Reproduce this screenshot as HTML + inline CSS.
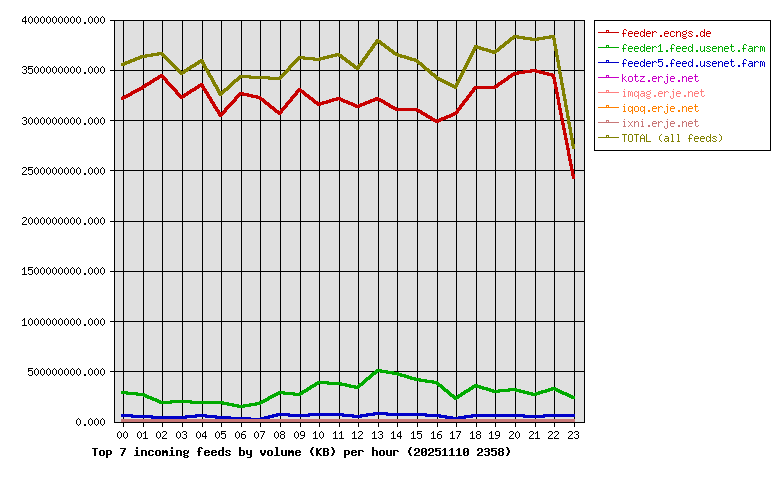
<!DOCTYPE html>
<html><head><meta charset="utf-8"><title>Top 7 incoming feeds by volume (KB) per hour</title><style>
html,body{margin:0;padding:0;background:#fff;width:780px;height:480px;overflow:hidden;font-family:"Liberation Mono",monospace}
svg{display:block}
</style></head><body>
<svg width="780" height="480" viewBox="0 0 780 480" shape-rendering="crispEdges">
<defs>
<path id="s40" d="M3 3h1v1h-1zM2 4h1v1h-1zM1 5h1v1h-1zM1 6h1v1h-1zM1 7h1v1h-1zM1 8h1v1h-1zM2 9h1v1h-1zM3 10h1v1h-1z"/>
<path id="s41" d="M1 3h1v1h-1zM2 4h1v1h-1zM3 5h1v1h-1zM3 6h1v1h-1zM3 7h1v1h-1zM3 8h1v1h-1zM2 9h1v1h-1zM1 10h1v1h-1z"/>
<path id="s46" d="M2 9h2v1h-2zM2 10h2v1h-2z"/>
<path id="s48" d="M2 3h1v1h-1zM1 4h1v1h-1zM3 4h1v1h-1zM0 5h1v1h-1zM4 5h1v1h-1zM0 6h1v1h-1zM4 6h1v1h-1zM0 7h1v1h-1zM4 7h1v1h-1zM0 8h1v1h-1zM4 8h1v1h-1zM1 9h1v1h-1zM3 9h1v1h-1zM2 10h1v1h-1z"/>
<path id="s49" d="M2 3h1v1h-1zM1 4h2v1h-2zM0 5h1v1h-1zM2 5h1v1h-1zM2 6h1v1h-1zM2 7h1v1h-1zM2 8h1v1h-1zM2 9h1v1h-1zM0 10h5v1h-5z"/>
<path id="s50" d="M1 3h3v1h-3zM0 4h1v1h-1zM4 4h1v1h-1zM4 5h1v1h-1zM3 6h1v1h-1zM2 7h1v1h-1zM1 8h1v1h-1zM0 9h1v1h-1zM0 10h5v1h-5z"/>
<path id="s51" d="M1 3h3v1h-3zM0 4h1v1h-1zM4 4h1v1h-1zM4 5h1v1h-1zM2 6h2v1h-2zM4 7h1v1h-1zM4 8h1v1h-1zM0 9h1v1h-1zM4 9h1v1h-1zM1 10h3v1h-3z"/>
<path id="s52" d="M3 3h1v1h-1zM2 4h2v1h-2zM1 5h1v1h-1zM3 5h1v1h-1zM0 6h1v1h-1zM3 6h1v1h-1zM0 7h1v1h-1zM3 7h1v1h-1zM0 8h5v1h-5zM3 9h1v1h-1zM3 10h1v1h-1z"/>
<path id="s53" d="M0 3h5v1h-5zM0 4h1v1h-1zM0 5h4v1h-4zM0 6h1v1h-1zM4 6h1v1h-1zM4 7h1v1h-1zM4 8h1v1h-1zM0 9h1v1h-1zM4 9h1v1h-1zM1 10h3v1h-3z"/>
<path id="s54" d="M2 3h3v1h-3zM1 4h1v1h-1zM0 5h1v1h-1zM0 6h4v1h-4zM0 7h1v1h-1zM4 7h1v1h-1zM0 8h1v1h-1zM4 8h1v1h-1zM0 9h1v1h-1zM4 9h1v1h-1zM1 10h3v1h-3z"/>
<path id="s55" d="M0 3h5v1h-5zM4 4h1v1h-1zM3 5h1v1h-1zM3 6h1v1h-1zM2 7h1v1h-1zM2 8h1v1h-1zM1 9h1v1h-1zM1 10h1v1h-1z"/>
<path id="s56" d="M1 3h3v1h-3zM0 4h1v1h-1zM4 4h1v1h-1zM0 5h1v1h-1zM4 5h1v1h-1zM1 6h3v1h-3zM0 7h1v1h-1zM4 7h1v1h-1zM0 8h1v1h-1zM4 8h1v1h-1zM0 9h1v1h-1zM4 9h1v1h-1zM1 10h3v1h-3z"/>
<path id="s57" d="M1 3h3v1h-3zM0 4h1v1h-1zM4 4h1v1h-1zM0 5h1v1h-1zM4 5h1v1h-1zM0 6h1v1h-1zM4 6h1v1h-1zM1 7h4v1h-4zM4 8h1v1h-1zM3 9h1v1h-1zM0 10h3v1h-3z"/>
<path id="s65" d="M2 3h1v1h-1zM1 4h1v1h-1zM3 4h1v1h-1zM0 5h1v1h-1zM4 5h1v1h-1zM0 6h1v1h-1zM4 6h1v1h-1zM0 7h5v1h-5zM0 8h1v1h-1zM4 8h1v1h-1zM0 9h1v1h-1zM4 9h1v1h-1zM0 10h1v1h-1zM4 10h1v1h-1z"/>
<path id="s76" d="M0 3h1v1h-1zM0 4h1v1h-1zM0 5h1v1h-1zM0 6h1v1h-1zM0 7h1v1h-1zM0 8h1v1h-1zM0 9h1v1h-1zM0 10h5v1h-5z"/>
<path id="s79" d="M1 3h3v1h-3zM0 4h1v1h-1zM4 4h1v1h-1zM0 5h1v1h-1zM4 5h1v1h-1zM0 6h1v1h-1zM4 6h1v1h-1zM0 7h1v1h-1zM4 7h1v1h-1zM0 8h1v1h-1zM4 8h1v1h-1zM0 9h1v1h-1zM4 9h1v1h-1zM1 10h3v1h-3z"/>
<path id="s84" d="M0 3h5v1h-5zM2 4h1v1h-1zM2 5h1v1h-1zM2 6h1v1h-1zM2 7h1v1h-1zM2 8h1v1h-1zM2 9h1v1h-1zM2 10h1v1h-1z"/>
<path id="s97" d="M1 5h3v1h-3zM4 6h1v1h-1zM1 7h4v1h-4zM0 8h1v1h-1zM4 8h1v1h-1zM0 9h1v1h-1zM3 9h2v1h-2zM1 10h2v1h-2zM4 10h1v1h-1z"/>
<path id="s99" d="M1 5h3v1h-3zM0 6h1v1h-1zM4 6h1v1h-1zM0 7h1v1h-1zM0 8h1v1h-1zM0 9h1v1h-1zM4 9h1v1h-1zM1 10h3v1h-3z"/>
<path id="s100" d="M4 3h1v1h-1zM4 4h1v1h-1zM1 5h2v1h-2zM4 5h1v1h-1zM0 6h1v1h-1zM3 6h2v1h-2zM0 7h1v1h-1zM4 7h1v1h-1zM0 8h1v1h-1zM4 8h1v1h-1zM0 9h1v1h-1zM3 9h2v1h-2zM1 10h2v1h-2zM4 10h1v1h-1z"/>
<path id="s101" d="M1 5h3v1h-3zM0 6h1v1h-1zM4 6h1v1h-1zM0 7h5v1h-5zM0 8h1v1h-1zM0 9h1v1h-1zM1 10h3v1h-3z"/>
<path id="s102" d="M2 3h2v1h-2zM1 4h1v1h-1zM4 4h1v1h-1zM1 5h1v1h-1zM1 6h1v1h-1zM0 7h4v1h-4zM1 8h1v1h-1zM1 9h1v1h-1zM1 10h1v1h-1z"/>
<path id="s103" d="M4 4h1v1h-1zM1 5h3v1h-3zM0 6h1v1h-1zM4 6h1v1h-1zM0 7h1v1h-1zM4 7h1v1h-1zM1 8h3v1h-3zM0 9h1v1h-1zM1 10h3v1h-3zM0 11h1v1h-1zM4 11h1v1h-1zM1 12h3v1h-3z"/>
<path id="s105" d="M2 3h1v1h-1zM1 5h2v1h-2zM2 6h1v1h-1zM2 7h1v1h-1zM2 8h1v1h-1zM2 9h1v1h-1zM1 10h3v1h-3z"/>
<path id="s106" d="M3 3h1v1h-1zM2 5h2v1h-2zM3 6h1v1h-1zM3 7h1v1h-1zM3 8h1v1h-1zM3 9h1v1h-1zM0 10h1v1h-1zM3 10h1v1h-1zM0 11h1v1h-1zM3 11h1v1h-1zM1 12h2v1h-2z"/>
<path id="s107" d="M0 3h1v1h-1zM0 4h1v1h-1zM0 5h1v1h-1zM3 5h1v1h-1zM0 6h1v1h-1zM2 6h1v1h-1zM0 7h2v1h-2zM0 8h1v1h-1zM2 8h1v1h-1zM0 9h1v1h-1zM3 9h1v1h-1zM0 10h1v1h-1zM4 10h1v1h-1z"/>
<path id="s108" d="M1 3h2v1h-2zM2 4h1v1h-1zM2 5h1v1h-1zM2 6h1v1h-1zM2 7h1v1h-1zM2 8h1v1h-1zM2 9h1v1h-1zM1 10h3v1h-3z"/>
<path id="s109" d="M0 5h2v1h-2zM3 5h1v1h-1zM0 6h1v1h-1zM2 6h1v1h-1zM4 6h1v1h-1zM0 7h1v1h-1zM2 7h1v1h-1zM4 7h1v1h-1zM0 8h1v1h-1zM2 8h1v1h-1zM4 8h1v1h-1zM0 9h1v1h-1zM2 9h1v1h-1zM4 9h1v1h-1zM0 10h1v1h-1zM4 10h1v1h-1z"/>
<path id="s110" d="M0 5h1v1h-1zM2 5h2v1h-2zM0 6h2v1h-2zM4 6h1v1h-1zM0 7h1v1h-1zM4 7h1v1h-1zM0 8h1v1h-1zM4 8h1v1h-1zM0 9h1v1h-1zM4 9h1v1h-1zM0 10h1v1h-1zM4 10h1v1h-1z"/>
<path id="s111" d="M1 5h3v1h-3zM0 6h1v1h-1zM4 6h1v1h-1zM0 7h1v1h-1zM4 7h1v1h-1zM0 8h1v1h-1zM4 8h1v1h-1zM0 9h1v1h-1zM4 9h1v1h-1zM1 10h3v1h-3z"/>
<path id="s113" d="M1 5h2v1h-2zM4 5h1v1h-1zM0 6h1v1h-1zM3 6h2v1h-2zM0 7h1v1h-1zM4 7h1v1h-1zM0 8h1v1h-1zM4 8h1v1h-1zM0 9h1v1h-1zM3 9h2v1h-2zM1 10h2v1h-2zM4 10h1v1h-1zM4 11h1v1h-1zM4 12h1v1h-1z"/>
<path id="s114" d="M0 5h1v1h-1zM2 5h2v1h-2zM0 6h2v1h-2zM4 6h1v1h-1zM0 7h1v1h-1zM0 8h1v1h-1zM0 9h1v1h-1zM0 10h1v1h-1z"/>
<path id="s115" d="M1 5h3v1h-3zM0 6h1v1h-1zM4 6h1v1h-1zM1 7h2v1h-2zM3 8h1v1h-1zM0 9h1v1h-1zM4 9h1v1h-1zM1 10h3v1h-3z"/>
<path id="s116" d="M1 3h1v1h-1zM1 4h1v1h-1zM0 5h4v1h-4zM1 6h1v1h-1zM1 7h1v1h-1zM1 8h1v1h-1zM1 9h1v1h-1zM4 9h1v1h-1zM2 10h2v1h-2z"/>
<path id="s117" d="M0 5h1v1h-1zM4 5h1v1h-1zM0 6h1v1h-1zM4 6h1v1h-1zM0 7h1v1h-1zM4 7h1v1h-1zM0 8h1v1h-1zM4 8h1v1h-1zM0 9h1v1h-1zM3 9h2v1h-2zM1 10h2v1h-2zM4 10h1v1h-1z"/>
<path id="s120" d="M0 5h1v1h-1zM4 5h1v1h-1zM1 6h1v1h-1zM3 6h1v1h-1zM2 7h1v1h-1zM2 8h1v1h-1zM1 9h1v1h-1zM3 9h1v1h-1zM0 10h1v1h-1zM4 10h1v1h-1z"/>
<path id="s122" d="M0 5h5v1h-5zM3 6h1v1h-1zM2 7h1v1h-1zM1 8h1v1h-1zM0 9h1v1h-1zM0 10h5v1h-5z"/>
<path id="b40" d="M3 2h2v1h-2zM2 3h2v1h-2zM2 4h2v1h-2zM1 5h2v1h-2zM1 6h2v1h-2zM1 7h2v1h-2zM2 8h2v1h-2zM2 9h2v1h-2zM3 10h2v1h-2z"/>
<path id="b41" d="M1 2h2v1h-2zM2 3h2v1h-2zM2 4h2v1h-2zM3 5h2v1h-2zM3 6h2v1h-2zM3 7h2v1h-2zM2 8h2v1h-2zM2 9h2v1h-2zM1 10h2v1h-2z"/>
<path id="b48" d="M1 3h4v1h-4zM0 4h2v1h-2zM4 4h2v1h-2zM0 5h2v1h-2zM4 5h2v1h-2zM0 6h2v1h-2zM3 6h3v1h-3zM0 7h3v1h-3zM4 7h2v1h-2zM0 8h2v1h-2zM4 8h2v1h-2zM0 9h2v1h-2zM4 9h2v1h-2zM1 10h4v1h-4z"/>
<path id="b49" d="M2 3h2v1h-2zM1 4h3v1h-3zM0 5h1v1h-1zM2 5h2v1h-2zM2 6h2v1h-2zM2 7h2v1h-2zM2 8h2v1h-2zM2 9h2v1h-2zM0 10h6v1h-6z"/>
<path id="b50" d="M1 3h4v1h-4zM0 4h2v1h-2zM4 4h2v1h-2zM0 5h2v1h-2zM4 5h2v1h-2zM4 6h2v1h-2zM2 7h3v1h-3zM1 8h2v1h-2zM0 9h2v1h-2zM0 10h6v1h-6z"/>
<path id="b51" d="M1 3h4v1h-4zM0 4h2v1h-2zM4 4h2v1h-2zM4 5h2v1h-2zM1 6h4v1h-4zM4 7h2v1h-2zM4 8h2v1h-2zM0 9h2v1h-2zM4 9h2v1h-2zM1 10h4v1h-4z"/>
<path id="b53" d="M0 3h6v1h-6zM0 4h2v1h-2zM0 5h5v1h-5zM0 6h2v1h-2zM4 6h2v1h-2zM4 7h2v1h-2zM4 8h2v1h-2zM0 9h2v1h-2zM4 9h2v1h-2zM1 10h4v1h-4z"/>
<path id="b55" d="M0 3h6v1h-6zM4 4h2v1h-2zM3 5h2v1h-2zM3 6h2v1h-2zM2 7h2v1h-2zM2 8h2v1h-2zM1 9h2v1h-2zM1 10h2v1h-2z"/>
<path id="b56" d="M1 3h4v1h-4zM0 4h2v1h-2zM4 4h2v1h-2zM0 5h2v1h-2zM4 5h2v1h-2zM1 6h4v1h-4zM0 7h2v1h-2zM4 7h2v1h-2zM0 8h2v1h-2zM4 8h2v1h-2zM0 9h2v1h-2zM4 9h2v1h-2zM1 10h4v1h-4z"/>
<path id="b66" d="M0 3h5v1h-5zM0 4h2v1h-2zM4 4h2v1h-2zM0 5h2v1h-2zM4 5h2v1h-2zM0 6h5v1h-5zM0 7h2v1h-2zM4 7h2v1h-2zM0 8h2v1h-2zM4 8h2v1h-2zM0 9h2v1h-2zM4 9h2v1h-2zM0 10h5v1h-5z"/>
<path id="b75" d="M0 3h2v1h-2zM4 3h2v1h-2zM0 4h2v1h-2zM3 4h2v1h-2zM0 5h4v1h-4zM0 6h3v1h-3zM0 7h3v1h-3zM0 8h4v1h-4zM0 9h2v1h-2zM3 9h2v1h-2zM0 10h2v1h-2zM4 10h2v1h-2z"/>
<path id="b84" d="M0 3h6v1h-6zM2 4h2v1h-2zM2 5h2v1h-2zM2 6h2v1h-2zM2 7h2v1h-2zM2 8h2v1h-2zM2 9h2v1h-2zM2 10h2v1h-2z"/>
<path id="b98" d="M0 2h2v1h-2zM0 3h2v1h-2zM0 4h2v1h-2zM0 5h5v1h-5zM0 6h2v1h-2zM4 6h2v1h-2zM0 7h2v1h-2zM4 7h2v1h-2zM0 8h2v1h-2zM4 8h2v1h-2zM0 9h2v1h-2zM4 9h2v1h-2zM0 10h5v1h-5z"/>
<path id="b99" d="M1 5h4v1h-4zM0 6h2v1h-2zM4 6h2v1h-2zM0 7h2v1h-2zM0 8h2v1h-2zM0 9h2v1h-2zM4 9h2v1h-2zM1 10h4v1h-4z"/>
<path id="b100" d="M4 2h2v1h-2zM4 3h2v1h-2zM4 4h2v1h-2zM1 5h5v1h-5zM0 6h2v1h-2zM4 6h2v1h-2zM0 7h2v1h-2zM4 7h2v1h-2zM0 8h2v1h-2zM4 8h2v1h-2zM0 9h2v1h-2zM4 9h2v1h-2zM1 10h5v1h-5z"/>
<path id="b101" d="M1 5h4v1h-4zM0 6h2v1h-2zM4 6h2v1h-2zM0 7h6v1h-6zM0 8h2v1h-2zM0 9h2v1h-2zM4 9h2v1h-2zM1 10h4v1h-4z"/>
<path id="b102" d="M2 2h3v1h-3zM1 3h2v1h-2zM4 3h2v1h-2zM1 4h2v1h-2zM1 5h2v1h-2zM0 6h4v1h-4zM1 7h2v1h-2zM1 8h2v1h-2zM1 9h2v1h-2zM1 10h2v1h-2z"/>
<path id="b103" d="M1 5h3v1h-3zM5 5h1v1h-1zM0 6h2v1h-2zM4 6h2v1h-2zM0 7h2v1h-2zM4 7h2v1h-2zM1 8h4v1h-4zM0 9h2v1h-2zM1 10h4v1h-4zM0 11h2v1h-2zM4 11h2v1h-2zM1 12h4v1h-4z"/>
<path id="b104" d="M0 2h2v1h-2zM0 3h2v1h-2zM0 4h2v1h-2zM0 5h5v1h-5zM0 6h2v1h-2zM4 6h2v1h-2zM0 7h2v1h-2zM4 7h2v1h-2zM0 8h2v1h-2zM4 8h2v1h-2zM0 9h2v1h-2zM4 9h2v1h-2zM0 10h2v1h-2zM4 10h2v1h-2z"/>
<path id="b105" d="M2 2h2v1h-2zM2 3h2v1h-2zM1 5h3v1h-3zM2 6h2v1h-2zM2 7h2v1h-2zM2 8h2v1h-2zM2 9h2v1h-2zM0 10h6v1h-6z"/>
<path id="b108" d="M1 2h3v1h-3zM2 3h2v1h-2zM2 4h2v1h-2zM2 5h2v1h-2zM2 6h2v1h-2zM2 7h2v1h-2zM2 8h2v1h-2zM2 9h2v1h-2zM0 10h6v1h-6z"/>
<path id="b109" d="M0 5h2v1h-2zM3 5h2v1h-2zM0 6h6v1h-6zM0 7h6v1h-6zM0 8h2v1h-2zM4 8h2v1h-2zM0 9h2v1h-2zM4 9h2v1h-2zM0 10h2v1h-2zM4 10h2v1h-2z"/>
<path id="b110" d="M0 5h5v1h-5zM0 6h2v1h-2zM4 6h2v1h-2zM0 7h2v1h-2zM4 7h2v1h-2zM0 8h2v1h-2zM4 8h2v1h-2zM0 9h2v1h-2zM4 9h2v1h-2zM0 10h2v1h-2zM4 10h2v1h-2z"/>
<path id="b111" d="M1 5h4v1h-4zM0 6h2v1h-2zM4 6h2v1h-2zM0 7h2v1h-2zM4 7h2v1h-2zM0 8h2v1h-2zM4 8h2v1h-2zM0 9h2v1h-2zM4 9h2v1h-2zM1 10h4v1h-4z"/>
<path id="b112" d="M0 5h5v1h-5zM0 6h2v1h-2zM4 6h2v1h-2zM0 7h2v1h-2zM4 7h2v1h-2zM0 8h2v1h-2zM4 8h2v1h-2zM0 9h5v1h-5zM0 10h2v1h-2zM0 11h2v1h-2zM0 12h2v1h-2z"/>
<path id="b114" d="M0 5h5v1h-5zM0 6h2v1h-2zM4 6h2v1h-2zM0 7h2v1h-2zM0 8h2v1h-2zM0 9h2v1h-2zM0 10h2v1h-2z"/>
<path id="b115" d="M1 5h4v1h-4zM0 6h2v1h-2zM4 6h2v1h-2zM1 7h2v1h-2zM3 8h2v1h-2zM0 9h2v1h-2zM4 9h2v1h-2zM1 10h4v1h-4z"/>
<path id="b117" d="M0 5h2v1h-2zM4 5h2v1h-2zM0 6h2v1h-2zM4 6h2v1h-2zM0 7h2v1h-2zM4 7h2v1h-2zM0 8h2v1h-2zM4 8h2v1h-2zM0 9h2v1h-2zM4 9h2v1h-2zM1 10h5v1h-5z"/>
<path id="b118" d="M0 5h2v1h-2zM4 5h2v1h-2zM0 6h2v1h-2zM4 6h2v1h-2zM0 7h2v1h-2zM4 7h2v1h-2zM1 8h4v1h-4zM1 9h4v1h-4zM2 10h2v1h-2z"/>
<path id="b121" d="M0 5h2v1h-2zM4 5h2v1h-2zM0 6h2v1h-2zM4 6h2v1h-2zM0 7h2v1h-2zM4 7h2v1h-2zM0 8h2v1h-2zM4 8h2v1h-2zM1 9h5v1h-5zM4 10h2v1h-2zM4 11h2v1h-2zM1 12h4v1h-4z"/>
</defs>
<rect x="114" y="20" width="471" height="403" fill="#e0e0e0"/>
<path d="M123 20h1v407h-1zM143 20h1v407h-1zM162 20h1v407h-1zM182 20h1v407h-1zM202 20h1v407h-1zM221 20h1v407h-1zM241 20h1v407h-1zM260 20h1v407h-1zM280 20h1v407h-1zM300 20h1v407h-1zM319 20h1v407h-1zM339 20h1v407h-1zM358 20h1v407h-1zM378 20h1v407h-1zM397 20h1v407h-1zM417 20h1v407h-1zM437 20h1v407h-1zM456 20h1v407h-1zM476 20h1v407h-1zM495 20h1v407h-1zM515 20h1v407h-1zM535 20h1v407h-1zM554 20h1v407h-1zM574 20h1v407h-1zM110 20h475v1h-475zM110 70h475v1h-475zM110 120h475v1h-475zM110 170h475v1h-475zM110 221h475v1h-475zM110 271h475v1h-475zM110 321h475v1h-475zM110 371h475v1h-475zM114 20h1v403h-1zM584 20h1v403h-1zM114 20h471v1h-471zM114 422h471v1h-471z" fill="#000"/>
<path d="M530 69h7v1h-7zM523 70h18v1h-18zM517 71h28v1h-28zM513 72h19v1h-19zM535 72h14v1h-14zM511 73h14v1h-14zM539 73h14v1h-14zM160 74h3v1h-3zM510 74h9v1h-9zM543 74h12v1h-12zM158 75h6v1h-6zM508 75h7v1h-7zM547 75h8v1h-8zM157 76h8v1h-8zM507 76h6v1h-6zM551 76h4v1h-4zM155 77h11v1h-11zM506 77h6v1h-6zM552 77h4v1h-4zM153 78h7v1h-7zM162 78h5v1h-5zM504 78h6v1h-6zM552 78h4v1h-4zM152 79h7v1h-7zM163 79h5v1h-5zM503 79h6v1h-6zM553 79h3v1h-3zM150 80h7v1h-7zM164 80h4v1h-4zM501 80h7v1h-7zM553 80h3v1h-3zM149 81h6v1h-6zM165 81h4v1h-4zM500 81h6v1h-6zM553 81h3v1h-3zM147 82h7v1h-7zM165 82h5v1h-5zM498 82h7v1h-7zM553 82h4v1h-4zM145 83h7v1h-7zM166 83h5v1h-5zM200 83h3v1h-3zM497 83h6v1h-6zM553 83h4v1h-4zM144 84h7v1h-7zM167 84h5v1h-5zM198 84h6v1h-6zM496 84h6v1h-6zM554 84h3v1h-3zM142 85h7v1h-7zM168 85h5v1h-5zM197 85h7v1h-7zM494 85h6v1h-6zM554 85h3v1h-3zM141 86h6v1h-6zM169 86h5v1h-5zM195 86h10v1h-10zM474 86h25v1h-25zM554 86h3v1h-3zM139 87h7v1h-7zM170 87h5v1h-5zM194 87h6v1h-6zM201 87h4v1h-4zM473 87h25v1h-25zM554 87h4v1h-4zM137 88h7v1h-7zM171 88h5v1h-5zM192 88h7v1h-7zM202 88h4v1h-4zM298 88h3v1h-3zM472 88h24v1h-24zM554 88h4v1h-4zM135 89h8v1h-8zM172 89h5v1h-5zM190 89h7v1h-7zM202 89h5v1h-5zM297 89h5v1h-5zM472 89h4v1h-4zM555 89h3v1h-3zM133 90h8v1h-8zM173 90h5v1h-5zM189 90h7v1h-7zM203 90h4v1h-4zM296 90h8v1h-8zM471 90h4v1h-4zM555 90h3v1h-3zM131 91h8v1h-8zM174 91h4v1h-4zM187 91h7v1h-7zM204 91h4v1h-4zM295 91h10v1h-10zM470 91h5v1h-5zM555 91h3v1h-3zM130 92h7v1h-7zM175 92h4v1h-4zM186 92h6v1h-6zM204 92h5v1h-5zM239 92h5v1h-5zM295 92h4v1h-4zM300 92h6v1h-6zM469 92h5v1h-5zM555 92h4v1h-4zM128 93h7v1h-7zM175 93h5v1h-5zM184 93h7v1h-7zM205 93h4v1h-4zM238 93h11v1h-11zM294 93h4v1h-4zM302 93h5v1h-5zM469 93h4v1h-4zM555 93h4v1h-4zM126 94h7v1h-7zM176 94h5v1h-5zM183 94h6v1h-6zM206 94h4v1h-4zM237 94h16v1h-16zM293 94h5v1h-5zM303 94h6v1h-6zM468 94h4v1h-4zM556 94h3v1h-3zM124 95h8v1h-8zM177 95h11v1h-11zM206 95h4v1h-4zM236 95h5v1h-5zM242 95h16v1h-16zM292 95h5v1h-5zM304 95h6v1h-6zM467 95h5v1h-5zM556 95h3v1h-3zM122 96h8v1h-8zM178 96h8v1h-8zM207 96h4v1h-4zM235 96h5v1h-5zM247 96h14v1h-14zM291 96h5v1h-5zM305 96h6v1h-6zM466 96h5v1h-5zM556 96h3v1h-3zM121 97h7v1h-7zM179 97h6v1h-6zM207 97h5v1h-5zM234 97h5v1h-5zM251 97h11v1h-11zM290 97h5v1h-5zM307 97h6v1h-6zM336 97h5v1h-5zM375 97h4v1h-4zM466 97h4v1h-4zM556 97h4v1h-4zM121 98h5v1h-5zM180 98h3v1h-3zM208 98h4v1h-4zM234 98h4v1h-4zM256 98h8v1h-8zM290 98h4v1h-4zM308 98h6v1h-6zM332 98h11v1h-11zM373 98h8v1h-8zM465 98h4v1h-4zM556 98h4v1h-4zM121 99h3v1h-3zM209 99h4v1h-4zM233 99h4v1h-4zM259 99h6v1h-6zM289 99h4v1h-4zM309 99h6v1h-6zM329 99h16v1h-16zM370 99h13v1h-13zM464 99h5v1h-5zM557 99h3v1h-3zM209 100h4v1h-4zM232 100h5v1h-5zM260 100h6v1h-6zM288 100h5v1h-5zM311 100h5v1h-5zM326 100h12v1h-12zM339 100h9v1h-9zM368 100h17v1h-17zM463 100h5v1h-5zM557 100h3v1h-3zM210 101h4v1h-4zM231 101h5v1h-5zM262 101h5v1h-5zM287 101h5v1h-5zM312 101h6v1h-6zM322 101h12v1h-12zM341 101h9v1h-9zM365 101h10v1h-10zM379 101h7v1h-7zM462 101h5v1h-5zM557 101h3v1h-3zM210 102h5v1h-5zM230 102h5v1h-5zM263 102h6v1h-6zM286 102h5v1h-5zM313 102h18v1h-18zM343 102h10v1h-10zM363 102h9v1h-9zM381 102h7v1h-7zM462 102h4v1h-4zM557 102h3v1h-3zM211 103h4v1h-4zM229 103h5v1h-5zM264 103h6v1h-6zM285 103h5v1h-5zM314 103h14v1h-14zM346 103h9v1h-9zM360 103h10v1h-10zM383 103h7v1h-7zM461 103h4v1h-4zM557 103h4v1h-4zM212 104h4v1h-4zM228 104h5v1h-5zM265 104h6v1h-6zM285 104h4v1h-4zM316 104h8v1h-8zM348 104h9v1h-9zM358 104h9v1h-9zM384 104h7v1h-7zM460 104h5v1h-5zM557 104h4v1h-4zM212 105h4v1h-4zM227 105h5v1h-5zM267 105h5v1h-5zM284 105h4v1h-4zM317 105h4v1h-4zM351 105h14v1h-14zM386 105h7v1h-7zM459 105h5v1h-5zM558 105h3v1h-3zM213 106h4v1h-4zM226 106h5v1h-5zM268 106h6v1h-6zM283 106h5v1h-5zM353 106h9v1h-9zM388 106h7v1h-7zM459 106h4v1h-4zM558 106h3v1h-3zM213 107h5v1h-5zM225 107h5v1h-5zM269 107h6v1h-6zM282 107h5v1h-5zM355 107h5v1h-5zM389 107h8v1h-8zM458 107h4v1h-4zM558 107h3v1h-3zM214 108h4v1h-4zM224 108h5v1h-5zM270 108h6v1h-6zM281 108h5v1h-5zM391 108h27v1h-27zM457 108h5v1h-5zM558 108h4v1h-4zM215 109h4v1h-4zM224 109h4v1h-4zM272 109h5v1h-5zM280 109h5v1h-5zM393 109h27v1h-27zM456 109h5v1h-5zM558 109h4v1h-4zM215 110h5v1h-5zM223 110h4v1h-4zM273 110h6v1h-6zM280 110h4v1h-4zM395 110h27v1h-27zM456 110h4v1h-4zM559 110h3v1h-3zM216 111h4v1h-4zM222 111h5v1h-5zM274 111h9v1h-9zM416 111h7v1h-7zM455 111h4v1h-4zM559 111h3v1h-3zM217 112h9v1h-9zM275 112h8v1h-8zM418 112h7v1h-7zM453 112h6v1h-6zM559 112h3v1h-3zM217 113h8v1h-8zM277 113h5v1h-5zM420 113h7v1h-7zM451 113h7v1h-7zM559 113h4v1h-4zM218 114h6v1h-6zM278 114h3v1h-3zM421 114h7v1h-7zM449 114h8v1h-8zM559 114h4v1h-4zM218 115h5v1h-5zM423 115h7v1h-7zM446 115h9v1h-9zM560 115h3v1h-3zM219 116h3v1h-3zM425 116h7v1h-7zM444 116h9v1h-9zM560 116h3v1h-3zM426 117h7v1h-7zM441 117h10v1h-10zM560 117h3v1h-3zM428 118h7v1h-7zM439 118h9v1h-9zM560 118h4v1h-4zM430 119h16v1h-16zM560 119h4v1h-4zM431 120h12v1h-12zM561 120h3v1h-3zM433 121h8v1h-8zM561 121h3v1h-3zM435 122h4v1h-4zM561 122h3v1h-3zM561 123h4v1h-4zM561 124h4v1h-4zM562 125h3v1h-3zM562 126h3v1h-3zM562 127h3v1h-3zM562 128h4v1h-4zM562 129h4v1h-4zM563 130h3v1h-3zM563 131h3v1h-3zM563 132h3v1h-3zM563 133h4v1h-4zM563 134h4v1h-4zM564 135h3v1h-3zM564 136h3v1h-3zM564 137h3v1h-3zM564 138h4v1h-4zM564 139h4v1h-4zM565 140h3v1h-3zM565 141h3v1h-3zM565 142h3v1h-3zM565 143h4v1h-4zM565 144h4v1h-4zM566 145h3v1h-3zM566 146h3v1h-3zM566 147h3v1h-3zM566 148h4v1h-4zM566 149h4v1h-4zM567 150h3v1h-3zM567 151h3v1h-3zM567 152h3v1h-3zM567 153h3v1h-3zM567 154h4v1h-4zM567 155h4v1h-4zM568 156h3v1h-3zM568 157h3v1h-3zM568 158h3v1h-3zM568 159h4v1h-4zM568 160h4v1h-4zM569 161h3v1h-3zM569 162h3v1h-3zM569 163h3v1h-3zM569 164h4v1h-4zM569 165h4v1h-4zM570 166h3v1h-3zM570 167h3v1h-3zM570 168h3v1h-3zM570 169h4v1h-4zM570 170h4v1h-4zM571 171h3v1h-3zM571 172h3v1h-3zM571 173h3v1h-3zM571 174h4v1h-4zM571 175h4v1h-4zM572 176h3v1h-3zM572 177h3v1h-3zM572 178h3v1h-3z" fill="#c80000"/>
<path d="M376 369h6v1h-6zM375 370h13v1h-13zM374 371h20v1h-20zM372 372h6v1h-6zM380 372h19v1h-19zM371 373h6v1h-6zM386 373h16v1h-16zM370 374h6v1h-6zM392 374h14v1h-14zM369 375h5v1h-5zM397 375h12v1h-12zM368 376h5v1h-5zM400 376h12v1h-12zM366 377h6v1h-6zM404 377h12v1h-12zM365 378h6v1h-6zM407 378h14v1h-14zM364 379h6v1h-6zM410 379h17v1h-17zM363 380h5v1h-5zM414 380h20v1h-20zM317 381h12v1h-12zM362 381h5v1h-5zM419 381h19v1h-19zM315 382h27v1h-27zM361 382h5v1h-5zM425 382h14v1h-14zM314 383h33v1h-33zM359 383h6v1h-6zM432 383h8v1h-8zM312 384h7v1h-7zM327 384h24v1h-24zM358 384h6v1h-6zM436 384h6v1h-6zM474 384h4v1h-4zM310 385h7v1h-7zM340 385h16v1h-16zM357 385h6v1h-6zM437 385h6v1h-6zM472 385h9v1h-9zM309 386h7v1h-7zM345 386h16v1h-16zM438 386h6v1h-6zM471 386h13v1h-13zM307 387h7v1h-7zM349 387h11v1h-11zM440 387h5v1h-5zM469 387h19v1h-19zM551 387h5v1h-5zM306 388h6v1h-6zM354 388h5v1h-5zM441 388h5v1h-5zM468 388h6v1h-6zM479 388h12v1h-12zM508 388h9v1h-9zM548 388h10v1h-10zM304 389h7v1h-7zM442 389h6v1h-6zM466 389h7v1h-7zM482 389h12v1h-12zM498 389h23v1h-23zM545 389h15v1h-15zM302 390h7v1h-7zM443 390h6v1h-6zM464 390h7v1h-7zM486 390h39v1h-39zM541 390h12v1h-12zM554 390h8v1h-8zM121 391h7v1h-7zM278 391h7v1h-7zM301 391h7v1h-7zM444 391h6v1h-6zM463 391h7v1h-7zM489 391h21v1h-21zM515 391h14v1h-14zM538 391h12v1h-12zM556 391h8v1h-8zM121 392h17v1h-17zM276 392h19v1h-19zM299 392h7v1h-7zM446 392h5v1h-5zM461 392h7v1h-7zM492 392h8v1h-8zM519 392h14v1h-14zM535 392h12v1h-12zM558 392h9v1h-9zM121 393h24v1h-24zM274 393h30v1h-30zM447 393h5v1h-5zM460 393h6v1h-6zM523 393h20v1h-20zM560 393h9v1h-9zM126 394h21v1h-21zM272 394h8v1h-8zM283 394h20v1h-20zM448 394h6v1h-6zM458 394h7v1h-7zM527 394h13v1h-13zM562 394h9v1h-9zM136 395h13v1h-13zM270 395h8v1h-8zM293 395h8v1h-8zM449 395h6v1h-6zM457 395h6v1h-6zM531 395h6v1h-6zM565 395h8v1h-8zM143 396h9v1h-9zM268 396h8v1h-8zM450 396h12v1h-12zM567 396h8v1h-8zM145 397h9v1h-9zM267 397h7v1h-7zM452 397h8v1h-8zM569 397h6v1h-6zM147 398h10v1h-10zM265 398h7v1h-7zM453 398h6v1h-6zM571 398h4v1h-4zM150 399h9v1h-9zM263 399h7v1h-7zM454 399h3v1h-3zM152 400h9v1h-9zM170 400h22v1h-22zM261 400h8v1h-8zM155 401h69v1h-69zM259 401h8v1h-8zM157 402h72v1h-72zM255 402h10v1h-10zM159 403h13v1h-13zM190 403h44v1h-44zM249 403h14v1h-14zM222 404h17v1h-17zM243 404h18v1h-18zM227 405h30v1h-30zM232 406h19v1h-19zM237 407h8v1h-8z" fill="#00aa00"/>
<path d="M373 412h15v1h-15zM276 413h14v1h-14zM308 413h36v1h-36zM366 413h61v1h-61zM121 414h12v1h-12zM195 414h12v1h-12zM272 414h82v1h-82zM360 414h81v1h-81zM471 414h54v1h-54zM543 414h32v1h-32zM121 415h32v1h-32zM185 415h32v1h-32zM268 415h107v1h-107zM386 415h61v1h-61zM464 415h111v1h-111zM121 416h110v1h-110zM264 416h14v1h-14zM288 416h22v1h-22zM342 416h26v1h-26zM425 416h28v1h-28zM458 416h117v1h-117zM131 417h66v1h-66zM205 417h46v1h-46zM260 417h14v1h-14zM352 417h10v1h-10zM439 417h34v1h-34zM523 417h22v1h-22zM151 418h36v1h-36zM215 418h55v1h-55zM445 418h21v1h-21zM229 419h37v1h-37zM451 419h9v1h-9zM249 420h13v1h-13z" fill="#0000c8"/>
<path d="M121 419h454v1h-454zM121 420h454v1h-454zM121 421h454v1h-454z" fill="#c87878"/>
<path d="M513 35h6v1h-6zM549 35h6v1h-6zM512 36h13v1h-13zM543 36h12v1h-12zM510 37h22v1h-22zM537 37h18v1h-18zM509 38h6v1h-6zM517 38h34v1h-34zM552 38h4v1h-4zM376 39h3v1h-3zM508 39h6v1h-6zM523 39h22v1h-22zM552 39h4v1h-4zM375 40h6v1h-6zM507 40h5v1h-5zM530 40h9v1h-9zM553 40h3v1h-3zM375 41h7v1h-7zM505 41h6v1h-6zM553 41h3v1h-3zM374 42h9v1h-9zM504 42h6v1h-6zM553 42h3v1h-3zM373 43h5v1h-5zM379 43h6v1h-6zM503 43h6v1h-6zM553 43h3v1h-3zM372 44h5v1h-5zM380 44h6v1h-6zM502 44h5v1h-5zM553 44h4v1h-4zM372 45h4v1h-4zM381 45h6v1h-6zM474 45h4v1h-4zM500 45h6v1h-6zM553 45h4v1h-4zM371 46h4v1h-4zM383 46h6v1h-6zM474 46h7v1h-7zM499 46h6v1h-6zM554 46h3v1h-3zM370 47h5v1h-5zM384 47h6v1h-6zM473 47h11v1h-11zM498 47h6v1h-6zM554 47h3v1h-3zM370 48h4v1h-4zM385 48h6v1h-6zM473 48h15v1h-15zM497 48h5v1h-5zM554 48h3v1h-3zM369 49h4v1h-4zM387 49h6v1h-6zM472 49h4v1h-4zM479 49h12v1h-12zM495 49h6v1h-6zM554 49h4v1h-4zM368 50h5v1h-5zM388 50h6v1h-6zM472 50h4v1h-4zM482 50h18v1h-18zM554 50h4v1h-4zM367 51h5v1h-5zM389 51h6v1h-6zM471 51h4v1h-4zM486 51h13v1h-13zM555 51h3v1h-3zM157 52h6v1h-6zM367 52h4v1h-4zM391 52h6v1h-6zM471 52h4v1h-4zM489 52h8v1h-8zM555 52h3v1h-3zM151 53h13v1h-13zM335 53h5v1h-5zM366 53h4v1h-4zM392 53h7v1h-7zM470 53h4v1h-4zM492 53h4v1h-4zM555 53h3v1h-3zM145 54h20v1h-20zM331 54h11v1h-11zM365 54h5v1h-5zM393 54h9v1h-9zM470 54h4v1h-4zM555 54h3v1h-3zM140 55h19v1h-19zM161 55h5v1h-5zM327 55h16v1h-16zM365 55h4v1h-4zM395 55h11v1h-11zM469 55h4v1h-4zM555 55h4v1h-4zM138 56h15v1h-15zM162 56h5v1h-5zM298 56h7v1h-7zM323 56h14v1h-14zM338 56h6v1h-6zM364 56h4v1h-4zM397 56h12v1h-12zM469 56h4v1h-4zM555 56h4v1h-4zM135 57h12v1h-12zM163 57h5v1h-5zM297 57h18v1h-18zM319 57h14v1h-14zM340 57h6v1h-6zM363 57h5v1h-5zM400 57h12v1h-12zM468 57h4v1h-4zM556 57h3v1h-3zM133 58h9v1h-9zM164 58h5v1h-5zM296 58h33v1h-33zM341 58h6v1h-6zM362 58h5v1h-5zM404 58h12v1h-12zM468 58h4v1h-4zM556 58h3v1h-3zM130 59h10v1h-10zM165 59h5v1h-5zM200 59h3v1h-3zM295 59h5v1h-5zM303 59h22v1h-22zM342 59h6v1h-6zM362 59h4v1h-4zM407 59h11v1h-11zM467 59h4v1h-4zM556 59h3v1h-3zM128 60h9v1h-9zM166 60h5v1h-5zM198 60h6v1h-6zM294 60h5v1h-5zM313 60h8v1h-8zM344 60h6v1h-6zM361 60h4v1h-4zM410 60h9v1h-9zM467 60h4v1h-4zM556 60h4v1h-4zM125 61h10v1h-10zM167 61h5v1h-5zM197 61h7v1h-7zM293 61h5v1h-5zM345 61h6v1h-6zM360 61h5v1h-5zM414 61h6v1h-6zM466 61h4v1h-4zM556 61h4v1h-4zM123 62h9v1h-9zM168 62h5v1h-5zM195 62h10v1h-10zM292 62h5v1h-5zM346 62h6v1h-6zM360 62h4v1h-4zM416 62h6v1h-6zM466 62h4v1h-4zM557 62h3v1h-3zM121 63h9v1h-9zM169 63h5v1h-5zM194 63h6v1h-6zM201 63h4v1h-4zM291 63h5v1h-5zM348 63h6v1h-6zM359 63h4v1h-4zM417 63h6v1h-6zM465 63h4v1h-4zM557 63h3v1h-3zM121 64h6v1h-6zM170 64h5v1h-5zM192 64h7v1h-7zM202 64h4v1h-4zM290 64h5v1h-5zM349 64h6v1h-6zM358 64h5v1h-5zM418 64h6v1h-6zM465 64h4v1h-4zM557 64h3v1h-3zM121 65h4v1h-4zM171 65h5v1h-5zM190 65h7v1h-7zM202 65h4v1h-4zM289 65h5v1h-5zM350 65h6v1h-6zM357 65h5v1h-5zM420 65h5v1h-5zM464 65h4v1h-4zM557 65h3v1h-3zM172 66h5v1h-5zM189 66h7v1h-7zM203 66h4v1h-4zM288 66h5v1h-5zM352 66h9v1h-9zM421 66h5v1h-5zM464 66h4v1h-4zM557 66h4v1h-4zM173 67h5v1h-5zM187 67h7v1h-7zM203 67h4v1h-4zM288 67h4v1h-4zM353 67h7v1h-7zM422 67h5v1h-5zM463 67h4v1h-4zM557 67h4v1h-4zM174 68h5v1h-5zM186 68h6v1h-6zM204 68h4v1h-4zM287 68h4v1h-4zM354 68h6v1h-6zM423 68h6v1h-6zM463 68h4v1h-4zM558 68h3v1h-3zM175 69h5v1h-5zM184 69h7v1h-7zM204 69h5v1h-5zM286 69h5v1h-5zM356 69h3v1h-3zM424 69h6v1h-6zM462 69h4v1h-4zM558 69h3v1h-3zM176 70h5v1h-5zM183 70h6v1h-6zM205 70h4v1h-4zM285 70h5v1h-5zM425 70h6v1h-6zM462 70h4v1h-4zM558 70h3v1h-3zM177 71h11v1h-11zM206 71h4v1h-4zM284 71h5v1h-5zM427 71h5v1h-5zM461 71h4v1h-4zM558 71h3v1h-3zM178 72h8v1h-8zM206 72h4v1h-4zM283 72h5v1h-5zM428 72h5v1h-5zM461 72h4v1h-4zM558 72h4v1h-4zM179 73h6v1h-6zM207 73h4v1h-4zM282 73h5v1h-5zM429 73h6v1h-6zM460 73h4v1h-4zM558 73h4v1h-4zM180 74h3v1h-3zM207 74h4v1h-4zM281 74h5v1h-5zM430 74h6v1h-6zM460 74h4v1h-4zM559 74h3v1h-3zM208 75h4v1h-4zM239 75h12v1h-12zM280 75h5v1h-5zM431 75h6v1h-6zM459 75h4v1h-4zM559 75h3v1h-3zM208 76h5v1h-5zM238 76h32v1h-32zM279 76h5v1h-5zM433 76h5v1h-5zM459 76h4v1h-4zM559 76h3v1h-3zM209 77h4v1h-4zM237 77h46v1h-46zM434 77h6v1h-6zM458 77h4v1h-4zM559 77h4v1h-4zM210 78h4v1h-4zM236 78h5v1h-5zM249 78h33v1h-33zM435 78h7v1h-7zM458 78h4v1h-4zM559 78h4v1h-4zM210 79h4v1h-4zM234 79h6v1h-6zM268 79h13v1h-13zM436 79h8v1h-8zM457 79h4v1h-4zM560 79h3v1h-3zM211 80h4v1h-4zM233 80h6v1h-6zM438 80h8v1h-8zM457 80h4v1h-4zM560 80h3v1h-3zM211 81h4v1h-4zM232 81h6v1h-6zM440 81h8v1h-8zM456 81h4v1h-4zM560 81h3v1h-3zM212 82h4v1h-4zM231 82h5v1h-5zM442 82h8v1h-8zM456 82h4v1h-4zM560 82h3v1h-3zM212 83h4v1h-4zM230 83h5v1h-5zM444 83h8v1h-8zM455 83h4v1h-4zM560 83h4v1h-4zM213 84h4v1h-4zM229 84h5v1h-5zM446 84h8v1h-8zM455 84h4v1h-4zM560 84h4v1h-4zM213 85h5v1h-5zM228 85h5v1h-5zM448 85h10v1h-10zM561 85h3v1h-3zM214 86h4v1h-4zM227 86h5v1h-5zM450 86h8v1h-8zM561 86h3v1h-3zM215 87h4v1h-4zM226 87h5v1h-5zM452 87h5v1h-5zM561 87h3v1h-3zM215 88h4v1h-4zM224 88h6v1h-6zM454 88h3v1h-3zM561 88h4v1h-4zM216 89h4v1h-4zM223 89h6v1h-6zM561 89h4v1h-4zM216 90h4v1h-4zM222 90h6v1h-6zM562 90h3v1h-3zM217 91h9v1h-9zM562 91h3v1h-3zM217 92h8v1h-8zM562 92h3v1h-3zM218 93h6v1h-6zM562 93h3v1h-3zM218 94h5v1h-5zM562 94h4v1h-4zM219 95h3v1h-3zM562 95h4v1h-4zM563 96h3v1h-3zM563 97h3v1h-3zM563 98h3v1h-3zM563 99h4v1h-4zM563 100h4v1h-4zM564 101h3v1h-3zM564 102h3v1h-3zM564 103h3v1h-3zM564 104h3v1h-3zM564 105h4v1h-4zM564 106h4v1h-4zM565 107h3v1h-3zM565 108h3v1h-3zM565 109h3v1h-3zM565 110h4v1h-4zM565 111h4v1h-4zM566 112h3v1h-3zM566 113h3v1h-3zM566 114h3v1h-3zM566 115h3v1h-3zM566 116h4v1h-4zM566 117h4v1h-4zM567 118h3v1h-3zM567 119h3v1h-3zM567 120h3v1h-3zM567 121h3v1h-3zM567 122h4v1h-4zM567 123h4v1h-4zM568 124h3v1h-3zM568 125h3v1h-3zM568 126h3v1h-3zM568 127h4v1h-4zM568 128h4v1h-4zM569 129h3v1h-3zM569 130h3v1h-3zM569 131h3v1h-3zM569 132h3v1h-3zM569 133h4v1h-4zM569 134h4v1h-4zM570 135h3v1h-3zM570 136h3v1h-3zM570 137h3v1h-3zM570 138h4v1h-4zM570 139h4v1h-4zM571 140h3v1h-3zM571 141h3v1h-3zM571 142h3v1h-3zM571 143h3v1h-3zM571 144h4v1h-4zM571 145h4v1h-4zM572 146h3v1h-3zM572 147h3v1h-3zM572 148h3v1h-3z" fill="#808000"/>
<path d="M594 20h177v1h-177zM594 150h177v1h-177zM594 20h1v131h-1zM770 20h1v131h-1z" fill="#000"/>
<path d="M598 32h21v1h-21zM606 30h3v1h-3zM606 31h1v2h-1zM608 31h1v2h-1z" fill="#c80000"/>
<path d="M598 47h21v1h-21zM606 45h3v1h-3zM606 46h1v2h-1zM608 46h1v2h-1z" fill="#00aa00"/>
<path d="M598 62h21v1h-21zM606 60h3v1h-3zM606 61h1v2h-1zM608 61h1v2h-1z" fill="#0000c8"/>
<path d="M598 77h21v1h-21zM606 75h3v1h-3zM606 76h1v2h-1zM608 76h1v2h-1z" fill="#c800c8"/>
<path d="M598 92h21v1h-21zM606 90h3v1h-3zM606 91h1v2h-1zM608 91h1v2h-1z" fill="#ff8080"/>
<path d="M598 107h21v1h-21zM606 105h3v1h-3zM606 106h1v2h-1zM608 106h1v2h-1z" fill="#ff8000"/>
<path d="M598 122h21v1h-21zM606 120h3v1h-3zM606 121h1v2h-1zM608 121h1v2h-1z" fill="#c87878"/>
<path d="M598 137h21v1h-21zM606 135h3v1h-3zM606 136h1v2h-1zM608 136h1v2h-1z" fill="#808000"/>
<g fill="#000"><use href="#s52" x="22" y="13"/><use href="#s48" x="28" y="13"/><use href="#s48" x="34" y="13"/><use href="#s48" x="40" y="13"/><use href="#s48" x="46" y="13"/><use href="#s48" x="52" y="13"/><use href="#s48" x="58" y="13"/><use href="#s48" x="64" y="13"/><use href="#s48" x="70" y="13"/><use href="#s48" x="76" y="13"/><use href="#s46" x="82" y="13"/><use href="#s48" x="88" y="13"/><use href="#s48" x="94" y="13"/><use href="#s48" x="100" y="13"/></g>
<g fill="#000"><use href="#s51" x="22" y="63"/><use href="#s53" x="28" y="63"/><use href="#s48" x="34" y="63"/><use href="#s48" x="40" y="63"/><use href="#s48" x="46" y="63"/><use href="#s48" x="52" y="63"/><use href="#s48" x="58" y="63"/><use href="#s48" x="64" y="63"/><use href="#s48" x="70" y="63"/><use href="#s48" x="76" y="63"/><use href="#s46" x="82" y="63"/><use href="#s48" x="88" y="63"/><use href="#s48" x="94" y="63"/><use href="#s48" x="100" y="63"/></g>
<g fill="#000"><use href="#s51" x="22" y="114"/><use href="#s48" x="28" y="114"/><use href="#s48" x="34" y="114"/><use href="#s48" x="40" y="114"/><use href="#s48" x="46" y="114"/><use href="#s48" x="52" y="114"/><use href="#s48" x="58" y="114"/><use href="#s48" x="64" y="114"/><use href="#s48" x="70" y="114"/><use href="#s48" x="76" y="114"/><use href="#s46" x="82" y="114"/><use href="#s48" x="88" y="114"/><use href="#s48" x="94" y="114"/><use href="#s48" x="100" y="114"/></g>
<g fill="#000"><use href="#s50" x="22" y="164"/><use href="#s53" x="28" y="164"/><use href="#s48" x="34" y="164"/><use href="#s48" x="40" y="164"/><use href="#s48" x="46" y="164"/><use href="#s48" x="52" y="164"/><use href="#s48" x="58" y="164"/><use href="#s48" x="64" y="164"/><use href="#s48" x="70" y="164"/><use href="#s48" x="76" y="164"/><use href="#s46" x="82" y="164"/><use href="#s48" x="88" y="164"/><use href="#s48" x="94" y="164"/><use href="#s48" x="100" y="164"/></g>
<g fill="#000"><use href="#s50" x="22" y="214"/><use href="#s48" x="28" y="214"/><use href="#s48" x="34" y="214"/><use href="#s48" x="40" y="214"/><use href="#s48" x="46" y="214"/><use href="#s48" x="52" y="214"/><use href="#s48" x="58" y="214"/><use href="#s48" x="64" y="214"/><use href="#s48" x="70" y="214"/><use href="#s48" x="76" y="214"/><use href="#s46" x="82" y="214"/><use href="#s48" x="88" y="214"/><use href="#s48" x="94" y="214"/><use href="#s48" x="100" y="214"/></g>
<g fill="#000"><use href="#s49" x="22" y="264"/><use href="#s53" x="28" y="264"/><use href="#s48" x="34" y="264"/><use href="#s48" x="40" y="264"/><use href="#s48" x="46" y="264"/><use href="#s48" x="52" y="264"/><use href="#s48" x="58" y="264"/><use href="#s48" x="64" y="264"/><use href="#s48" x="70" y="264"/><use href="#s48" x="76" y="264"/><use href="#s46" x="82" y="264"/><use href="#s48" x="88" y="264"/><use href="#s48" x="94" y="264"/><use href="#s48" x="100" y="264"/></g>
<g fill="#000"><use href="#s49" x="22" y="315"/><use href="#s48" x="28" y="315"/><use href="#s48" x="34" y="315"/><use href="#s48" x="40" y="315"/><use href="#s48" x="46" y="315"/><use href="#s48" x="52" y="315"/><use href="#s48" x="58" y="315"/><use href="#s48" x="64" y="315"/><use href="#s48" x="70" y="315"/><use href="#s48" x="76" y="315"/><use href="#s46" x="82" y="315"/><use href="#s48" x="88" y="315"/><use href="#s48" x="94" y="315"/><use href="#s48" x="100" y="315"/></g>
<g fill="#000"><use href="#s53" x="28" y="365"/><use href="#s48" x="34" y="365"/><use href="#s48" x="40" y="365"/><use href="#s48" x="46" y="365"/><use href="#s48" x="52" y="365"/><use href="#s48" x="58" y="365"/><use href="#s48" x="64" y="365"/><use href="#s48" x="70" y="365"/><use href="#s48" x="76" y="365"/><use href="#s46" x="82" y="365"/><use href="#s48" x="88" y="365"/><use href="#s48" x="94" y="365"/><use href="#s48" x="100" y="365"/></g>
<g fill="#000"><use href="#s48" x="76" y="415"/><use href="#s46" x="82" y="415"/><use href="#s48" x="88" y="415"/><use href="#s48" x="94" y="415"/><use href="#s48" x="100" y="415"/></g>
<g fill="#000"><use href="#s48" x="117" y="428"/><use href="#s48" x="123" y="428"/></g>
<g fill="#000"><use href="#s48" x="137" y="428"/><use href="#s49" x="143" y="428"/></g>
<g fill="#000"><use href="#s48" x="156" y="428"/><use href="#s50" x="162" y="428"/></g>
<g fill="#000"><use href="#s48" x="176" y="428"/><use href="#s51" x="182" y="428"/></g>
<g fill="#000"><use href="#s48" x="196" y="428"/><use href="#s52" x="202" y="428"/></g>
<g fill="#000"><use href="#s48" x="215" y="428"/><use href="#s53" x="221" y="428"/></g>
<g fill="#000"><use href="#s48" x="235" y="428"/><use href="#s54" x="241" y="428"/></g>
<g fill="#000"><use href="#s48" x="254" y="428"/><use href="#s55" x="260" y="428"/></g>
<g fill="#000"><use href="#s48" x="274" y="428"/><use href="#s56" x="280" y="428"/></g>
<g fill="#000"><use href="#s48" x="294" y="428"/><use href="#s57" x="300" y="428"/></g>
<g fill="#000"><use href="#s49" x="313" y="428"/><use href="#s48" x="319" y="428"/></g>
<g fill="#000"><use href="#s49" x="333" y="428"/><use href="#s49" x="339" y="428"/></g>
<g fill="#000"><use href="#s49" x="352" y="428"/><use href="#s50" x="358" y="428"/></g>
<g fill="#000"><use href="#s49" x="372" y="428"/><use href="#s51" x="378" y="428"/></g>
<g fill="#000"><use href="#s49" x="391" y="428"/><use href="#s52" x="397" y="428"/></g>
<g fill="#000"><use href="#s49" x="411" y="428"/><use href="#s53" x="417" y="428"/></g>
<g fill="#000"><use href="#s49" x="431" y="428"/><use href="#s54" x="437" y="428"/></g>
<g fill="#000"><use href="#s49" x="450" y="428"/><use href="#s55" x="456" y="428"/></g>
<g fill="#000"><use href="#s49" x="470" y="428"/><use href="#s56" x="476" y="428"/></g>
<g fill="#000"><use href="#s49" x="489" y="428"/><use href="#s57" x="495" y="428"/></g>
<g fill="#000"><use href="#s50" x="509" y="428"/><use href="#s48" x="515" y="428"/></g>
<g fill="#000"><use href="#s50" x="529" y="428"/><use href="#s49" x="535" y="428"/></g>
<g fill="#000"><use href="#s50" x="548" y="428"/><use href="#s50" x="554" y="428"/></g>
<g fill="#000"><use href="#s50" x="568" y="428"/><use href="#s51" x="574" y="428"/></g>
<g fill="#000"><use href="#b84" x="92" y="445"/><use href="#b111" x="99" y="445"/><use href="#b112" x="106" y="445"/><use href="#b55" x="120" y="445"/><use href="#b105" x="134" y="445"/><use href="#b110" x="141" y="445"/><use href="#b99" x="148" y="445"/><use href="#b111" x="155" y="445"/><use href="#b109" x="162" y="445"/><use href="#b105" x="169" y="445"/><use href="#b110" x="176" y="445"/><use href="#b103" x="183" y="445"/><use href="#b102" x="197" y="445"/><use href="#b101" x="204" y="445"/><use href="#b101" x="211" y="445"/><use href="#b100" x="218" y="445"/><use href="#b115" x="225" y="445"/><use href="#b98" x="239" y="445"/><use href="#b121" x="246" y="445"/><use href="#b118" x="260" y="445"/><use href="#b111" x="267" y="445"/><use href="#b108" x="274" y="445"/><use href="#b117" x="281" y="445"/><use href="#b109" x="288" y="445"/><use href="#b101" x="295" y="445"/><use href="#b40" x="309" y="445"/><use href="#b75" x="316" y="445"/><use href="#b66" x="323" y="445"/><use href="#b41" x="330" y="445"/><use href="#b112" x="344" y="445"/><use href="#b101" x="351" y="445"/><use href="#b114" x="358" y="445"/><use href="#b104" x="372" y="445"/><use href="#b111" x="379" y="445"/><use href="#b117" x="386" y="445"/><use href="#b114" x="393" y="445"/><use href="#b40" x="407" y="445"/><use href="#b50" x="414" y="445"/><use href="#b48" x="421" y="445"/><use href="#b50" x="428" y="445"/><use href="#b53" x="435" y="445"/><use href="#b49" x="442" y="445"/><use href="#b49" x="449" y="445"/><use href="#b49" x="456" y="445"/><use href="#b48" x="463" y="445"/><use href="#b50" x="477" y="445"/><use href="#b51" x="484" y="445"/><use href="#b53" x="491" y="445"/><use href="#b56" x="498" y="445"/><use href="#b41" x="505" y="445"/></g>
<g fill="#c80000"><use href="#s102" x="622" y="26"/><use href="#s101" x="628" y="26"/><use href="#s101" x="634" y="26"/><use href="#s100" x="640" y="26"/><use href="#s101" x="646" y="26"/><use href="#s114" x="652" y="26"/><use href="#s46" x="658" y="26"/><use href="#s101" x="664" y="26"/><use href="#s99" x="670" y="26"/><use href="#s110" x="676" y="26"/><use href="#s103" x="682" y="26"/><use href="#s115" x="688" y="26"/><use href="#s46" x="694" y="26"/><use href="#s100" x="700" y="26"/><use href="#s101" x="706" y="26"/></g>
<g fill="#00aa00"><use href="#s102" x="622" y="41"/><use href="#s101" x="628" y="41"/><use href="#s101" x="634" y="41"/><use href="#s100" x="640" y="41"/><use href="#s101" x="646" y="41"/><use href="#s114" x="652" y="41"/><use href="#s49" x="658" y="41"/><use href="#s46" x="664" y="41"/><use href="#s102" x="670" y="41"/><use href="#s101" x="676" y="41"/><use href="#s101" x="682" y="41"/><use href="#s100" x="688" y="41"/><use href="#s46" x="694" y="41"/><use href="#s117" x="700" y="41"/><use href="#s115" x="706" y="41"/><use href="#s101" x="712" y="41"/><use href="#s110" x="718" y="41"/><use href="#s101" x="724" y="41"/><use href="#s116" x="730" y="41"/><use href="#s46" x="736" y="41"/><use href="#s102" x="742" y="41"/><use href="#s97" x="748" y="41"/><use href="#s114" x="754" y="41"/><use href="#s109" x="760" y="41"/></g>
<g fill="#0000c8"><use href="#s102" x="622" y="56"/><use href="#s101" x="628" y="56"/><use href="#s101" x="634" y="56"/><use href="#s100" x="640" y="56"/><use href="#s101" x="646" y="56"/><use href="#s114" x="652" y="56"/><use href="#s53" x="658" y="56"/><use href="#s46" x="664" y="56"/><use href="#s102" x="670" y="56"/><use href="#s101" x="676" y="56"/><use href="#s101" x="682" y="56"/><use href="#s100" x="688" y="56"/><use href="#s46" x="694" y="56"/><use href="#s117" x="700" y="56"/><use href="#s115" x="706" y="56"/><use href="#s101" x="712" y="56"/><use href="#s110" x="718" y="56"/><use href="#s101" x="724" y="56"/><use href="#s116" x="730" y="56"/><use href="#s46" x="736" y="56"/><use href="#s102" x="742" y="56"/><use href="#s97" x="748" y="56"/><use href="#s114" x="754" y="56"/><use href="#s109" x="760" y="56"/></g>
<g fill="#c800c8"><use href="#s107" x="622" y="71"/><use href="#s111" x="628" y="71"/><use href="#s116" x="634" y="71"/><use href="#s122" x="640" y="71"/><use href="#s46" x="646" y="71"/><use href="#s101" x="652" y="71"/><use href="#s114" x="658" y="71"/><use href="#s106" x="664" y="71"/><use href="#s101" x="670" y="71"/><use href="#s46" x="676" y="71"/><use href="#s110" x="682" y="71"/><use href="#s101" x="688" y="71"/><use href="#s116" x="694" y="71"/></g>
<g fill="#ff8080"><use href="#s105" x="622" y="86"/><use href="#s109" x="628" y="86"/><use href="#s113" x="634" y="86"/><use href="#s97" x="640" y="86"/><use href="#s103" x="646" y="86"/><use href="#s46" x="652" y="86"/><use href="#s101" x="658" y="86"/><use href="#s114" x="664" y="86"/><use href="#s106" x="670" y="86"/><use href="#s101" x="676" y="86"/><use href="#s46" x="682" y="86"/><use href="#s110" x="688" y="86"/><use href="#s101" x="694" y="86"/><use href="#s116" x="700" y="86"/></g>
<g fill="#ff8000"><use href="#s105" x="622" y="101"/><use href="#s113" x="628" y="101"/><use href="#s111" x="634" y="101"/><use href="#s113" x="640" y="101"/><use href="#s46" x="646" y="101"/><use href="#s101" x="652" y="101"/><use href="#s114" x="658" y="101"/><use href="#s106" x="664" y="101"/><use href="#s101" x="670" y="101"/><use href="#s46" x="676" y="101"/><use href="#s110" x="682" y="101"/><use href="#s101" x="688" y="101"/><use href="#s116" x="694" y="101"/></g>
<g fill="#c87878"><use href="#s105" x="622" y="116"/><use href="#s120" x="628" y="116"/><use href="#s110" x="634" y="116"/><use href="#s105" x="640" y="116"/><use href="#s46" x="646" y="116"/><use href="#s101" x="652" y="116"/><use href="#s114" x="658" y="116"/><use href="#s106" x="664" y="116"/><use href="#s101" x="670" y="116"/><use href="#s46" x="676" y="116"/><use href="#s110" x="682" y="116"/><use href="#s101" x="688" y="116"/><use href="#s116" x="694" y="116"/></g>
<g fill="#808000"><use href="#s84" x="622" y="131"/><use href="#s79" x="628" y="131"/><use href="#s84" x="634" y="131"/><use href="#s65" x="640" y="131"/><use href="#s76" x="646" y="131"/><use href="#s40" x="658" y="131"/><use href="#s97" x="664" y="131"/><use href="#s108" x="670" y="131"/><use href="#s108" x="676" y="131"/><use href="#s102" x="688" y="131"/><use href="#s101" x="694" y="131"/><use href="#s101" x="700" y="131"/><use href="#s100" x="706" y="131"/><use href="#s115" x="712" y="131"/><use href="#s41" x="718" y="131"/></g>
</svg>
</body></html>
